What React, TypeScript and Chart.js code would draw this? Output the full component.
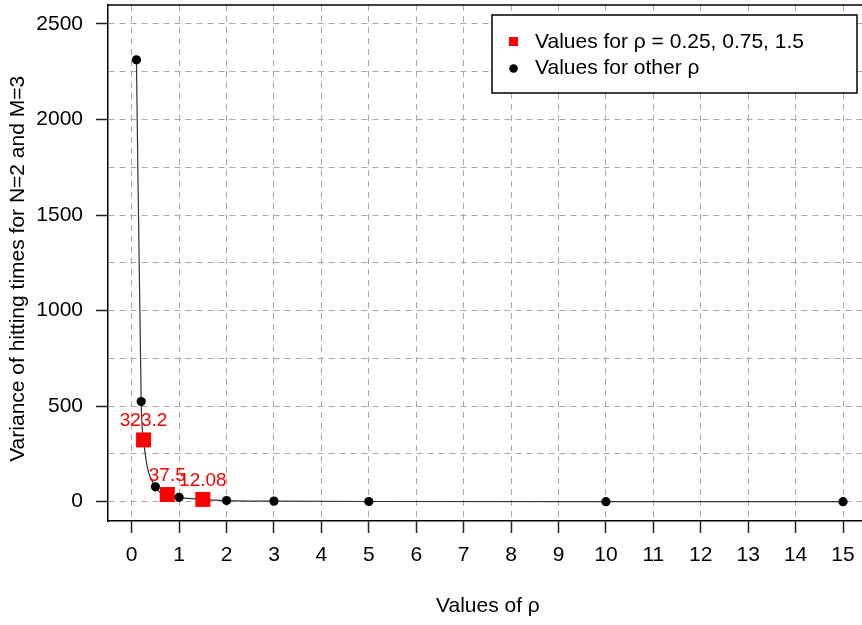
import React, { useEffect, useRef } from 'react';
import { Chart, registerables } from 'chart.js';

Chart.register(...registerables);

// ---- data ----
const otherRho = [0.1, 0.2, 0.5, 1, 2, 3, 5, 10, 15];
const otherVariance = [2312, 524, 78, 23, 6, 3, 1, 0.3, 0.1];
const markedRho = [0.25, 0.75, 1.5];
const markedVariance = [323.2, 37.5, 12.08];
const markedLabels = ['323.2', '37.5', '12.08'];
const xTickValues = [0, 1, 2, 3, 4, 5, 6, 7, 8, 9, 10, 11, 12, 13, 14, 15];
const yGridValues = [0, 250, 500, 750, 1000, 1250, 1500, 1750, 2000, 2250, 2500];
const yLabelStep = 500;
const legendLabels = ['Values for \u03c1 = 0.25, 0.75, 1.5', 'Values for other \u03c1'];
const xTitle = 'Values of \u03c1';
const yTitle = 'Variance of hitting times for N=2 and M=3';

const FONT = "'Liberation Sans', Arial, Helvetica, sans-serif";
const RED = '#ff0000';
const GRID = '#a8a8a8';

const curvePoints = [
  ...otherRho.map((x, i) => ({ x, y: otherVariance[i] })),
  ...markedRho.map((x, i) => ({ x, y: markedVariance[i] })),
].sort((a, b) => a.x - b.x);

const framePlugin = {
  id: 'frameTop',
  afterDraw(chart: any) {
    const { ctx, chartArea } = chart;
    ctx.save();
    ctx.strokeStyle = '#000';
    ctx.lineWidth = 1.5;
    ctx.beginPath();
    ctx.moveTo(chartArea.left - 0.75, chartArea.top);
    ctx.lineTo(chartArea.right, chartArea.top);
    ctx.stroke();
    ctx.restore();
  },
};

const valueLabelPlugin = {
  id: 'valueLabels',
  afterDatasetsDraw(chart: any) {
    const { ctx } = chart;
    const meta = chart.getDatasetMeta(0);
    ctx.save();
    ctx.fillStyle = RED;
    ctx.font = `19px ${FONT}`;
    ctx.textAlign = 'center';
    ctx.textBaseline = 'middle';
    meta.data.forEach((el: any, i: number) => {
      ctx.fillText(markedLabels[i], el.x, el.y - 19);
    });
    ctx.restore();
  },
};

const boxLegendPlugin = {
  id: 'boxLegend',
  afterDraw(chart: any) {
    const { ctx } = chart;
    const x0 = 492;
    const y0 = 15;
    const w = 365;
    const h = 78;
    ctx.save();
    ctx.fillStyle = '#fff';
    ctx.fillRect(x0, y0, w, h);
    ctx.strokeStyle = '#000';
    ctx.lineWidth = 1.5;
    ctx.strokeRect(x0, y0, w, h);
    ctx.fillStyle = RED;
    ctx.fillRect(509, 37, 9, 9);
    ctx.fillStyle = '#000';
    ctx.beginPath();
    ctx.arc(513.5, 68.5, 4.3, 0, Math.PI * 2);
    ctx.fill();
    ctx.font = `21px ${FONT}`;
    ctx.textAlign = 'left';
    ctx.textBaseline = 'alphabetic';
    ctx.fillText(legendLabels[0], 535, 47.5);
    ctx.fillText(legendLabels[1], 535, 73.5);
    ctx.restore();
  },
};

export default function App() {
  const canvasRef = useRef<HTMLCanvasElement | null>(null);

  useEffect(() => {
    if (!canvasRef.current) return;
    const chart = new Chart(canvasRef.current, {
      type: 'scatter',
      data: {
        datasets: [
          {
            label: legendLabels[0],
            data: markedRho.map((x, i) => ({ x, y: markedVariance[i] })),
            pointStyle: 'rect',
            pointRadius: 10.6,
            backgroundColor: RED,
            borderColor: RED,
            borderWidth: 0,
            order: 1,
          },
          {
            label: legendLabels[1],
            data: otherRho.map((x, i) => ({ x, y: otherVariance[i] })),
            pointStyle: 'circle',
            pointRadius: 4.6,
            backgroundColor: '#000',
            borderColor: '#000',
            borderWidth: 0,
            order: 2,
          },
          {
            label: 'curve',
            data: curvePoints,
            showLine: true,
            pointRadius: 0,
            borderColor: '#333',
            borderWidth: 1.2,
            cubicInterpolationMode: 'monotone',
            fill: false,
            order: 10,
          } as any,
        ],
      },
      options: {
        animation: false,
        responsive: false,
        maintainAspectRatio: false,
        events: [],
        layout: { autoPadding: false, padding: { top: 5, left: 0, right: 0, bottom: 0 } },
        plugins: {
          legend: { display: false },
          tooltip: { enabled: false },
        },
        scales: {
          x: {
            type: 'linear',
            min: -0.5,
            max: 15.4,
            afterBuildTicks: (axis: any) => {
              axis.ticks = xTickValues.map((v) => ({ value: v }));
            },
            afterFit: (axis: any) => {
              axis.height = 104;
              axis.paddingLeft = 0;
              axis.paddingRight = 0;
            },
            grid: {
              color: GRID,
              lineWidth: 1,
              drawTicks: true,
              tickLength: 12,
              tickColor: '#222',
              tickWidth: 1.5,
              tickBorderDash: [],
              borderDash: [6, 5],
            } as any,
            border: { display: true, color: '#000', width: 1.5, dash: [6, 5] },
            ticks: {
              autoSkip: false,
              maxRotation: 0,
              minRotation: 0,
              padding: 10,
              color: '#000',
              font: { family: FONT, size: 21 },
              callback: (v: any) => String(v),
            },
            title: {
              display: true,
              text: ' ' + xTitle,
              color: '#000',
              font: { family: FONT, size: 21 },
              padding: { top: 0, bottom: 6.5 },
            },
          },
          y: {
            type: 'linear',
            min: -101,
            max: 2599,
            afterBuildTicks: (axis: any) => {
              axis.ticks = yGridValues.map((v) => ({ value: v }));
            },
            afterFit: (axis: any) => {
              axis.width = 108;
              axis.paddingTop = 0;
              axis.paddingBottom = 0;
            },
            grid: {
              color: GRID,
              lineWidth: 1,
              drawTicks: true,
              tickLength: 12,
              tickColor: (c: any) =>
                c.tick && c.tick.value % yLabelStep === 0 ? '#222' : 'rgba(0,0,0,0)',
              tickWidth: 1.5,
              tickBorderDash: [],
              borderDash: [6, 5],
            } as any,
            border: { display: true, color: '#000', width: 1.5, dash: [6, 5] },
            ticks: {
              autoSkip: false,
              padding: 13,
              color: '#000',
              font: { family: FONT, size: 21 },
              callback: (v: any) => (Number(v) % yLabelStep === 0 ? String(v) : ''),
            },
            title: {
              display: true,
              text: yTitle + '  ',
              color: '#000',
              font: { family: FONT, size: 21 },
              padding: { top: 5.4, bottom: 0 },
            },
          },
        },
      },
      plugins: [framePlugin, valueLabelPlugin, boxLegendPlugin],
    } as any);
    return () => chart.destroy();
  }, []);

  return (
    <div style={{ position: 'absolute', left: 0, top: 0, width: 862, height: 625, background: '#fff' }}>
      <canvas ref={canvasRef} width={862} height={625} style={{ display: 'block' }} />
    </div>
  );
}
